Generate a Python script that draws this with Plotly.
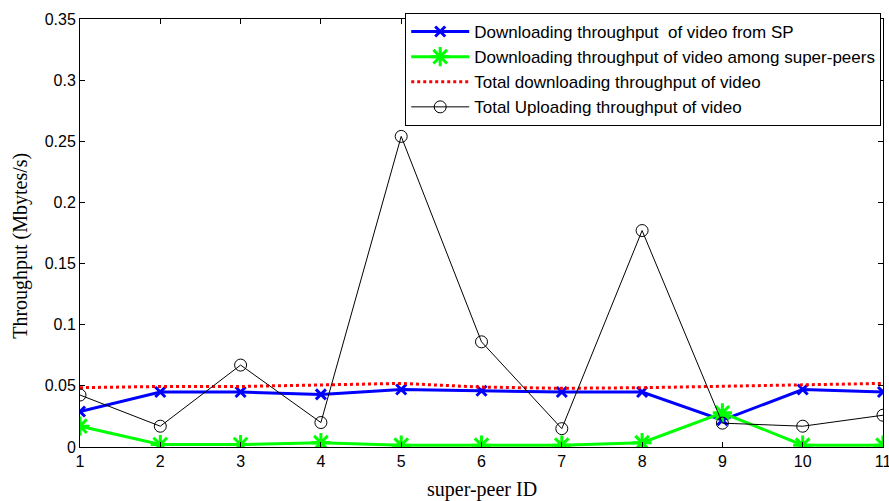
import plotly.graph_objects as go

peer_ids = [1, 2, 3, 4, 5, 6, 7, 8, 9, 10, 11]
dl_from_sp = [0.029, 0.045, 0.045, 0.043, 0.047, 0.046, 0.045, 0.045, 0.022, 0.047, 0.045]
dl_among_sp = [0.017, 0.002, 0.002, 0.0035, 0.0015, 0.0015, 0.0015, 0.0035, 0.028, 0.0015, 0.0015]
total_dl = [0.0485, 0.0495, 0.0495, 0.0505, 0.052, 0.049, 0.048, 0.0485, 0.0495, 0.0505, 0.052]
total_ul = [0.0425, 0.017, 0.067, 0.02, 0.254, 0.086, 0.015, 0.177, 0.0195, 0.017, 0.026]

names = [
    "Downloading throughput  of video from SP",
    "Downloading throughput of video among super-peers",
    "Total downloading throughput of video",
    "Total Uploading throughput of video",
]

fig = go.Figure()
fig.add_trace(go.Scatter(x=peer_ids, y=dl_from_sp, name=names[0], mode="lines+markers",
                         line=dict(color="#0000ff", width=3),
                         marker=dict(symbol="x-thin-open", size=10, line=dict(color="#0000ff", width=3))))
fig.add_trace(go.Scatter(x=peer_ids, y=dl_among_sp, name=names[1], mode="lines+markers",
                         line=dict(color="#00ff00", width=3),
                         marker=dict(symbol="asterisk-open", size=16, line=dict(color="#00ff00", width=3))))
fig.add_trace(go.Scatter(x=peer_ids, y=total_dl, name=names[2], mode="lines",
                         line=dict(color="#ff0000", width=3, dash="dot")))
fig.add_trace(go.Scatter(x=peer_ids, y=total_ul, name=names[3], mode="lines+markers",
                         line=dict(color="#000000", width=1),
                         marker=dict(symbol="circle-open", size=12, color="#000000",
                                     line=dict(color="#000000", width=1))))

axis_common = dict(showline=True, linecolor="black", linewidth=1, mirror="ticks",
                   ticks="inside", ticklen=5, tickcolor="black", showgrid=False, zeroline=False,
                   ticklabeloverflow="allow",
                   tickfont=dict(family="Liberation Sans, Arial", size=16, color="black"))

fig.update_xaxes(range=[1, 11], tickvals=peer_ids, **axis_common)
fig.update_yaxes(range=[0, 0.35], tickvals=[0, 0.05, 0.1, 0.15, 0.2, 0.25, 0.3, 0.35],
                 ticktext=["0", "0.05", "0.1", "0.15", "0.2", "0.25", "0.3", "0.35"], **axis_common)

fig.update_layout(
    width=889, height=501,
    margin=dict(l=80, r=6, t=19, b=54, autoexpand=False),
    plot_bgcolor="white", paper_bgcolor="white",
    legend=dict(x=0.405, y=1.014, xanchor="left", yanchor="top",
                bgcolor="white", bordercolor="black", borderwidth=1,
                itemwidth=58, tracegroupgap=0,
                font=dict(family="Liberation Sans, Arial", size=17, color="black")),
    annotations=[
        dict(text="super-peer ID", xref="paper", yref="paper", x=0.5, y=-0.1,
             xanchor="center", yanchor="middle", showarrow=False,
             font=dict(family="Liberation Serif, Times New Roman", size=20, color="black")),
        dict(text="Throughput (Mbytes/s)", xref="paper", yref="paper", x=-0.0735, y=0.47,
             xanchor="center", yanchor="middle", showarrow=False, textangle=-90,
             font=dict(family="Liberation Serif, Times New Roman", size=20, color="black")),
    ],
)

fig.write_html("out.html")
